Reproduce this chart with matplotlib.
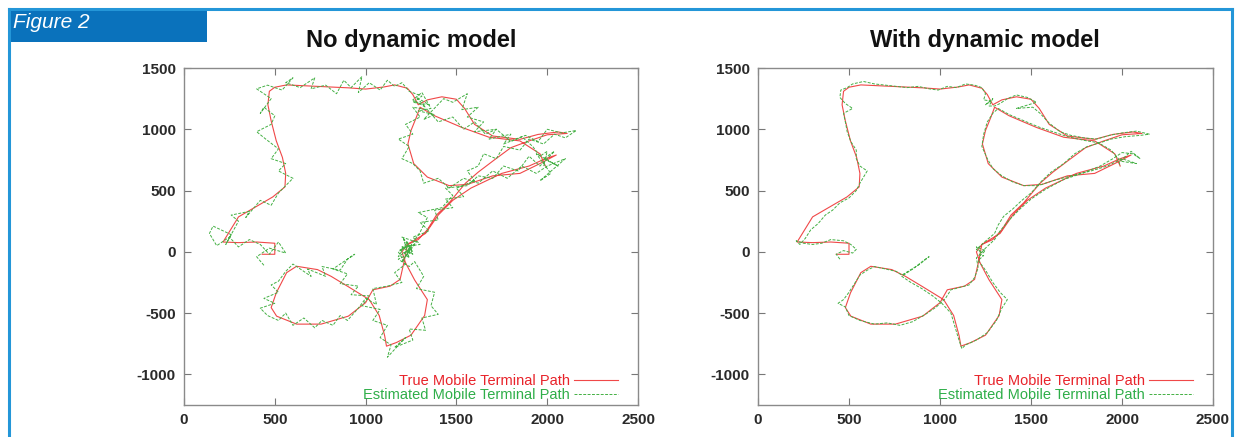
import matplotlib
matplotlib.use("Agg")
import matplotlib.pyplot as plt
from matplotlib.patches import Rectangle
from matplotlib.lines import Line2D

plt.rcParams['font.family'] = ['Liberation Sans', 'DejaVu Sans']
plt.rcParams['axes.unicode_minus'] = False

# true mobile terminal path (same in both panels)
true_x = [430, 500, 500, 400, 300, 215, 300, 395, 489, 556, 560, 542, 508, 480, 462, 470, 500, 565, 736, 907,
          1000, 1100, 1160, 1230, 1260, 1290, 1340, 1420, 1500, 1545, 1600, 1700, 1850, 1950, 2060, 2110, 2000,
          1900, 1800, 1700, 1620, 1550, 1460, 1390, 1340, 1290, 1230, 1200, 1220, 1270, 1340, 1325, 1250, 1170,
          1115, 1105, 1075, 1020, 905, 810, 735, 620, 565, 508, 480, 510, 620, 755, 905, 1000, 1040, 1135, 1190,
          1215, 1230, 1330, 1400, 1480, 1580, 1750, 1900, 1990, 2050, 1960, 1850, 1700, 1560, 1460, 1340, 1265,
          1233, 1250, 1280, 1300, 1380, 1530, 1680, 1850, 1960, 1990]
true_y = [-20, -20, 70, 80, 75, 80, 285, 367, 448, 530, 640, 770, 906, 1068, 1200, 1310, 1343, 1362, 1350, 1338,
          1328, 1345, 1362, 1335, 1283, 1200, 1240, 1265, 1245, 1170, 1040, 945, 918, 958, 978, 966, 955,
          905, 850, 740, 650, 560, 400, 300, 180, 100, 60, 0, -90, -230, -390, -520, -680, -740,
          -770, -685, -520, -390, -285, -200, -145, -118, -170, -335, -455, -525, -590, -590, -525, -415, -310, -280, -225,
          -60, 60, 150, 300, 420, 520, 640, 700, 760, 790, 720, 640, 620, 550, 540, 610, 720,
          880, 990, 1100, 1180, 1110, 1015, 935, 905, 800, 700]

# estimated path, no dynamic model
est1_x = [440, 400, 470, 560, 520, 470, 420, 360, 300, 250, 180, 140, 160, 260, 230, 300, 260, 360, 340, 420,
          480, 520, 600, 520, 560, 480, 520, 450, 400, 480, 500, 440, 420, 480, 400, 460, 540, 600, 560, 640,
          720, 700, 780, 840, 880, 920, 980, 960, 1020, 1080, 1120, 1160, 1200, 1240, 1310, 1260, 1350,
          1280, 1330, 1260, 1310, 1360, 1290,
          1380, 1320, 1430, 1480, 1560, 1530, 1620, 1560, 1650, 1600, 1720, 1680, 1800, 1760, 1880, 1950, 2000,
          2080, 2160, 2100, 2040, 1980, 1900, 1850, 1760, 1720, 1650, 1620, 1560, 1600, 1500, 1540, 1440, 1480,
          1380, 1400, 1300, 1350, 1260, 1300, 1200, 1260,
          1230, 1180, 1250, 1200, 1270, 1190, 1240, 1210, 1260,
          1180, 1240, 1270, 1320, 1280, 1380, 1360, 1400, 1310,
          1330, 1240, 1260, 1160, 1220, 1120, 1140, 1080, 1120, 1040, 1080, 980, 1020, 920, 960, 860, 900, 820,
          940, 900, 860, 760, 780, 680, 700, 600, 560, 520, 480, 520, 440, 500, 420, 460, 520, 560, 600, 660,
          720, 760, 820, 860, 900, 960, 1000, 1060, 1040, 1120, 1200, 1160, 1220, 1180, 1240, 1200, 1280, 1220,
          1300, 1340, 1290, 1420, 1480, 1440, 1560, 1620, 1700, 1760, 1840, 1900, 1960, 2040,
          1980, 2060, 1940, 2020, 1960,
          2100, 2000, 1940,
          1860, 1780, 1700, 1620, 1540, 1460, 1400, 1320, 1300, 1260, 1200, 1240, 1180, 1260, 1220, 1300, 1260,
          1340, 1400, 1480, 1540, 1600, 1660, 1720, 1800, 1860, 1920, 1960, 2000, 1980]
est1_y = [-110, -40, 30, -10, 80, -20, 60, 100, 40, 120, 50, 150, 210, 140, 60, 250, 300, 330, 280, 420,
          380, 480, 600, 660, 720, 760, 840, 920, 980, 1040, 1110, 1180, 1130, 1250, 1330, 1360, 1320, 1420, 1380, 1340,
          1420, 1330, 1360, 1290, 1400, 1340, 1430, 1300, 1380, 1320, 1400, 1350, 1380, 1310, 1270, 1220, 1200,
          1260, 1180, 1240, 1300, 1170, 1150,
          1120, 1080, 1250, 1220, 1290, 1160, 1180, 1100, 1060, 980, 1000, 920, 960, 880, 950, 900, 1000,
          970, 990, 930, 960, 880, 920, 830, 860, 760, 800, 700, 660, 580, 520, 450, 430, 360,
          340, 260, 240, 170, 120, 60, 40, -20,
          80, -40, 30, -80, 60, 20, -50, 100, 0,
          -60, -120, -80, -200, -300, -330, -440, -510, -540,
          -640, -630, -720, -780, -700, -860, -760, -700, -600, -560, -470, -440, -360, -350, -280, -260, -180, -140,
          -20, -60, -150, -120, -200, -140, -200, -100, -160, -240, -270, -330, -380, -420, -460, -520, -560, -500, -600, -540,
          -620, -560, -600, -520, -560, -460, -380, -430, -300, -280, -250, -170, -100, 0, 60, 120, 80, -10,
          160, 280, 320, 360, 460, 520, 540, 620, 600, 700, 660, 780, 700, 820,
          760, 700, 800, 640, 580,
          760, 700, 640,
          700, 600, 660, 560, 600, 520, 600, 560, 660, 720, 760, 860, 920, 960, 1040, 1100, 1180,
          1160, 1060, 1100, 1000, 1060, 960, 1000, 900, 940, 860, 780, 820, 700]

# estimated path, with dynamic model
est2_x = [450, 430, 470, 520, 540, 510, 470, 400, 350, 300, 250, 210, 230, 260, 290, 330, 370, 410, 450, 500,
          540, 560, 600, 560, 540, 540, 510, 490, 480, 470, 520, 480, 450, 455, 490, 520, 580, 640, 700, 760,
          820, 880, 940, 990, 1040, 1090, 1140, 1190, 1230, 1250, 1240, 1280,
          1250, 1290, 1270,
          1300, 1330, 1370, 1420, 1480, 1530,
          1420, 1510, 1550, 1600, 1660, 1720, 1790, 1860, 1930, 2000, 2080, 2150, 2100, 2020, 1940, 1880, 1810,
          1740, 1680, 1610, 1560, 1500, 1450, 1400, 1350, 1320, 1300, 1260, 1230, 1200,
          1230, 1200, 1250, 1220,
          1240, 1210, 1250, 1290,
          1330, 1370, 1340, 1310, 1260, 1200, 1140, 1120, 1100, 1080, 1060, 1010, 960, 900, 840, 790, 850, 920,
          940, 880, 790, 760, 700, 640, 600, 560, 530, 500, 470, 440, 480, 500, 560, 640, 710, 780, 850, 920,
          980, 1030, 1060, 1110, 1160, 1190, 1210, 1200, 1250, 1300, 1330, 1380, 1440, 1500, 1580, 1680, 1780,
          1880, 1950, 2000, 2060, 2100,
          2050, 1990, 2080,
          2000, 1920, 1830, 1720, 1620, 1540, 1460, 1400, 1340, 1290, 1260, 1230,
          1240, 1260, 1290, 1320, 1380, 1460, 1540, 1620, 1700, 1790, 1870, 1940, 1980, 1990]
est2_y = [-60, -20, 10, -10, 20, 60, 90, 100, 70, 60, 70, 90, 60, 110, 180, 230, 300, 340, 400, 440,
          500, 560, 660, 700, 760, 830, 900, 980, 1060, 1130, 1170, 1210, 1260, 1320, 1340, 1370, 1390, 1370, 1360, 1350,
          1340, 1350, 1330, 1320, 1350, 1340, 1370, 1360, 1340, 1290, 1240, 1230,
          1200, 1250, 1190,
          1190, 1210, 1250, 1280, 1260, 1220,
          1170, 1180, 1130, 1050, 980, 950, 930, 920, 950, 970, 985, 960, 950, 940, 920, 890, 860,
          800, 720, 650, 580, 480, 420, 350, 290, 220, 150, 100, 60, 20,
          -10, 40, 10, -30,
          -30, -70, -150, -250,
          -330, -390, -460, -560, -660, -720, -760, -790, -700, -600, -500, -420, -360, -300, -250, -200, -140, -60,
          -40, -110, -190, -160, -140, -120, -150, -190, -260, -330, -390, -420, -450, -520, -560, -590, -580, -600, -570, -510,
          -450, -380, -310, -290, -270, -210, -130, -50, 30, 100, 170, 260, 350, 430, 510, 590, 640,
          700, 760, 810, 800, 760,
          820, 740, 720,
          760, 700, 660, 620, 580, 540, 540, 570, 620, 680, 760, 860,
          960, 1060, 1130, 1170, 1120, 1070, 1020, 980, 940, 910, 890, 830, 760, 700]

panels = [("No dynamic model", est1_x, est1_y, 184, 638, 411),
          ("With dynamic model", est2_x, est2_y, 758, 1213, 985)]

W, H = 1240, 437
fig = plt.figure(figsize=(W / 100, H / 100), dpi=100)

def fx(px):
    return px / W

def fy(py):
    return 1 - py / H

# blue frame round the figure and the "Figure 2" tab
border = "#2496d8"
fig.add_artist(Line2D([fx(9), fx(1232)], [fy(9), fy(9)], color=border, lw=2.2, transform=fig.transFigure))
fig.add_artist(Line2D([fx(9), fx(9)], [fy(9), fy(437)], color=border, lw=2.2, transform=fig.transFigure))
fig.add_artist(Line2D([fx(1232), fx(1232)], [fy(9), fy(437)], color=border, lw=2.2, transform=fig.transFigure))
fig.add_artist(Rectangle((fx(9), fy(42)), fx(198), 33 / H, facecolor="#0a72bc", edgecolor="none",
                         transform=fig.transFigure))
fig.text(fx(13), fy(23), "Figure 2", color="white", fontsize=15, style="italic", va="center", ha="left")

for title, ex, ey, left, right, tcx in panels:
    ax = fig.add_axes([fx(left), fy(405), fx(right - left), (405 - 68) / H])
    ax.plot(true_x, true_y, color="#f04848", lw=0.8, label="True Mobile Terminal Path")
    ax.plot(ex, ey, color="#44b044", lw=0.7, ls=(0, (3, 1.5)), label="Estimated Mobile Terminal Path")
    ax.set_xlim(0, 2500)
    ax.set_ylim(-1250, 1500)
    ax.set_xticks([0, 500, 1000, 1500, 2000, 2500])
    ax.set_yticks([-1000, -500, 0, 500, 1000, 1500])
    ax.tick_params(direction="in", top=True, right=True, length=5, color="#777777",
                   labelsize=11, labelcolor="#2a2a2a", pad=6)
    for lab in ax.get_xticklabels() + ax.get_yticklabels():
        lab.set_fontweight("bold")
    for s in ax.spines.values():
        s.set_color("#8a8a8a")
        s.set_linewidth(1.0)
    leg = ax.legend(loc="lower right", frameon=False, markerfirst=False, fontsize=10.5,
                    handlelength=3.0, handletextpad=0.3, labelspacing=0.0,
                    bbox_to_anchor=(0.985, -0.03))
    leg.get_texts()[0].set_color("#e8232a")
    leg.get_texts()[1].set_color("#2fae49")
    fig.text(fx(tcx), fy(40), title, fontsize=17, fontweight="bold", ha="center", va="center", color="#111111")

fig.savefig("out.png", dpi=100)
